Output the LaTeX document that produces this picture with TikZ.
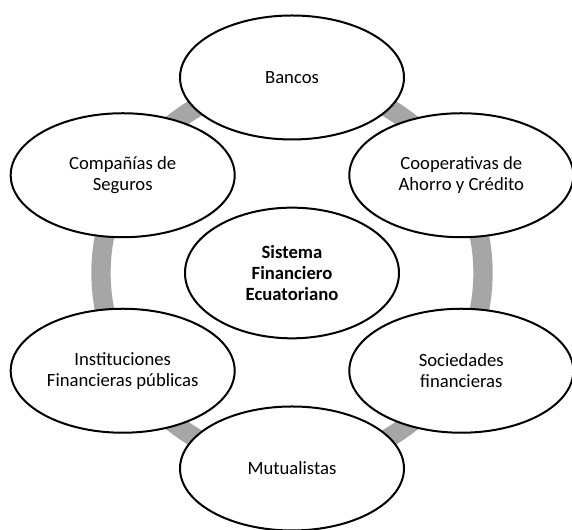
\documentclass[tikz,border=0pt]{standalone}
\usepackage{fontspec}
\setmainfont{Carlito}
\usetikzlibrary{shapes.geometric}
\tikzset{%
  unit/.style={ellipse,draw,line width=1.5pt,fill=white,inner sep=0pt,
    minimum width=168pt,minimum height=93pt,align=center,
    font=\fontsize{14}{15.5}\selectfont},
  core/.style={unit,minimum width=160.5pt,minimum height=98pt,
    font=\fontsize{14}{15.5}\selectfont\bfseries}
}
\definecolor{c0}{RGB}{166,166,166}

\begin{document}
\begin{tikzpicture}[x=0.75pt,y=0.75pt]
  \useasboundingbox (0,0) rectangle (572,530);
  \coordinate (p0) at (292,257);
  \draw[c0,line width=14.5pt] (p0) circle[radius=191];
  \coordinate (q0) at (292,452.5);
  \coordinate (q1) at (461.3,354.75);
  \coordinate (q2) at (461.3,159.25);
  \coordinate (q3) at (292,61.5);
  \coordinate (q4) at (122.7,159.25);
  \coordinate (q5) at (122.7,354.75);
  \node[unit] (n0) at (q0) {Bancos};
  \node[unit] (n1) at (q1) {Cooperativas de\\Ahorro y Crédito};
  \node[unit] (n2) at (q2) {Sociedades\\financieras};
  \node[unit] (n3) at (q3) {Mutualistas};
  \node[unit] (n4) at (q4) {Instituciones\\Financieras públicas};
  \node[unit] (n5) at (q5) {Compañías de\\Seguros};
  %%%
  \node[core] (m0) at (p0) {Sistema\\Financiero\\Ecuatoriano};
\end{tikzpicture}
\end{document}
